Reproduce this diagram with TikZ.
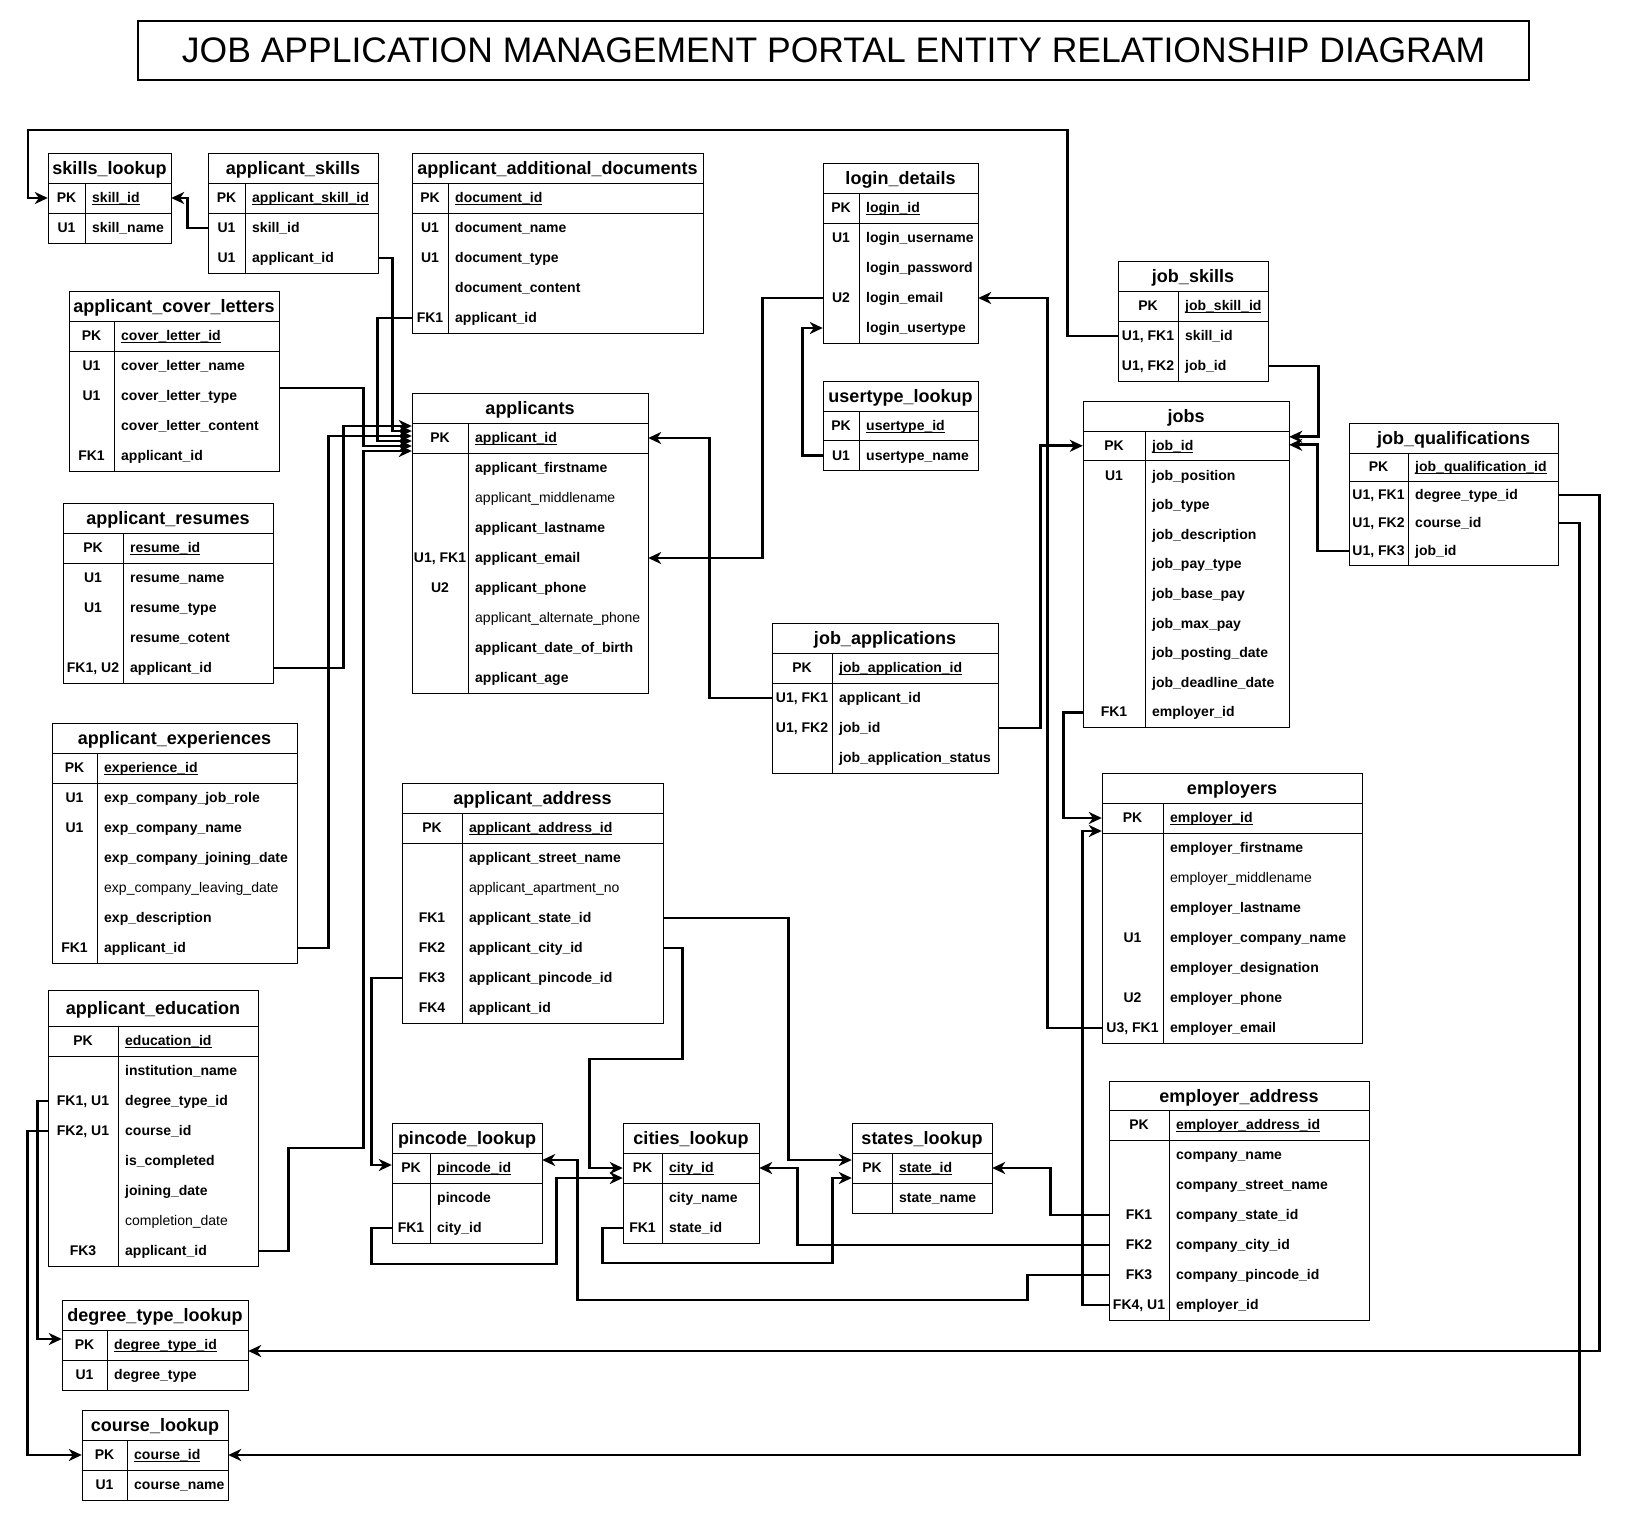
\documentclass[tikz,border=0pt]{standalone}
\usepackage{fontspec}
\setmainfont{Liberation Sans}
\usetikzlibrary{arrows.meta}

\newcommand{\pkfield}[1]{\underline{\smash{#1}}}
\newcommand{\ertable}[9]{%
  \node[tblhead, minimum width=#4, minimum height=#6] (#1) at (#2+#4/2, #3+#6/2) {#8};
  \foreach [count=\i] \k/\f in {#9} {
    \node[rowbox, minimum width=#4, minimum height=#7] (#1-\i) at (#2+#4/2, #3+#6+\i*#7-#7/2) {};
    \node[keytext] at (#2+#5/2, #3+#6+\i*#7-#7/2) {\k};
    \node[fieldtext] at (#2+#5+7, #3+#6+\i*#7-#7/2) {\f};
    \xdef\ernrows{\i}
  }
  \draw[tblline] (#2,#3) rectangle ++(#4, #6+\ernrows*#7);
  \draw[tblline] (#2,#3+#6) -- ++(#4,0) (#2,#3+#6+#7) -- ++(#4,0)
    (#2+#5,#3+#6) -- (#2+#5, #3+#6+\ernrows*#7);
}

\begin{document}
\begin{tikzpicture}[x=1pt, y=-1pt,
  tblhead/.style={inner sep=0, font=\bfseries\fontsize{18}{20}\selectfont, text height=16pt, text depth=3pt},
  rowbox/.style={inner sep=0},
  keytext/.style={inner sep=0, font=\bfseries\fontsize{14}{16}\selectfont, text height=12.5pt, text depth=3pt},
  fieldtext/.style={keytext, anchor=west},
  tblline/.style={line width=1pt},
  fk/.style={line width=2.8pt, -{Stealth[length=13pt, width=12pt, inset=4pt]}}]
  \fill[white] (0,0) rectangle (1628,1521);
  \useasboundingbox (0,0) rectangle (1628,1521);
  \node[draw, line width=1.2pt, minimum width=1391, minimum height=59, font=\fontsize{35.5}{40}\selectfont] (title) at (833.5,50.5)
    {JOB APPLICATION MANAGEMENT PORTAL ENTITY RELATIONSHIP DIAGRAM};

  \ertable{skills}{48}{153}{123}{37}{30}{30}{skills\_lookup}
    {PK/\pkfield{skill\_id}, U1/skill\_name}
  \ertable{appskills}{208}{153}{170}{37}{30}{30}{applicant\_skills}
    {PK/\pkfield{applicant\_skill\_id}, U1/skill\_id, U1/applicant\_id}
  \ertable{adddocs}{412}{153}{291}{36}{30}{30}{applicant\_additional\_documents}
    {PK/\pkfield{document\_id}, U1/document\_name, U1/document\_type, /document\_content, FK1/applicant\_id}
  \ertable{covers}{69}{291}{210}{45}{30}{30}{applicant\_cover\_letters}
    {PK/\pkfield{cover\_letter\_id}, U1/cover\_letter\_name, U1/cover\_letter\_type, /cover\_letter\_content, FK1/applicant\_id}
  \ertable{applicants}{412}{393}{236}{56}{30}{30}{applicants}
    {PK/\pkfield{applicant\_id}, /applicant\_firstname, /\mdseries applicant\_middlename, /applicant\_lastname,
     U1{,} FK1/applicant\_email, U2/applicant\_phone, /\mdseries applicant\_alternate\_phone,
     /applicant\_date\_of\_birth, /applicant\_age}
  \ertable{resumes}{63}{503}{210}{60}{30}{30}{applicant\_resumes}
    {PK/\pkfield{resume\_id}, U1/resume\_name, U1/resume\_type, /resume\_cotent, FK1{,} U2/applicant\_id}
  \ertable{exps}{52}{723}{245}{45}{30}{30}{applicant\_experiences}
    {PK/\pkfield{experience\_id}, U1/exp\_company\_job\_role, U1/exp\_company\_name, /exp\_company\_joining\_date,
     /\mdseries exp\_company\_leaving\_date, /exp\_description, FK1/applicant\_id}
  \ertable{edu}{48}{990}{210}{70}{36}{30}{applicant\_education}
    {PK/\pkfield{education\_id}, /institution\_name, FK1{,} U1/degree\_type\_id, FK2{,} U1/course\_id,
     /is\_completed, /joining\_date, /\mdseries completion\_date, FK3/applicant\_id}
  \ertable{degrees}{62}{1300}{186}{45}{30}{30}{degree\_type\_lookup}
    {PK/\pkfield{degree\_type\_id}, U1/degree\_type}
  \ertable{courses}{82}{1410}{146}{45}{30}{30}{course\_lookup}
    {PK/\pkfield{course\_id}, U1/course\_name}
  \ertable{login}{823}{163}{155}{36}{30}{30}{login\_details}
    {PK/\pkfield{login\_id}, U1/login\_username, /login\_password, U2/login\_email, /login\_usertype}
  \ertable{usertype}{823}{381}{155}{36}{30}{29.5}{usertype\_lookup}
    {PK/\pkfield{usertype\_id}, U1/usertype\_name}
  \ertable{jobskills}{1118}{261}{150}{60}{30}{30}{job\_skills}
    {PK/\pkfield{job\_skill\_id}, U1{,} FK1/skill\_id, U1{,} FK2/job\_id}
  \ertable{jobs}{1083}{401}{206}{62}{30}{29.6}{jobs}
    {PK/\pkfield{job\_id}, U1/job\_position, /job\_type, /job\_description, /job\_pay\_type, /job\_base\_pay,
     /job\_max\_pay, /job\_posting\_date, /job\_deadline\_date, FK1/employer\_id}
  \ertable{jobqual}{1349}{423}{209}{59}{30}{28}{job\_qualifications}
    {PK/\pkfield{job\_qualification\_id}, U1{,} FK1/degree\_type\_id, U1{,} FK2/course\_id, U1{,} FK3/job\_id}
  \ertable{jobapps}{772}{623}{226}{60}{30}{30}{job\_applications}
    {PK/\pkfield{job\_application\_id}, U1{,} FK1/applicant\_id, U1{,} FK2/job\_id, /job\_application\_status}
  \ertable{appaddr}{402}{783}{261}{60}{30}{30}{applicant\_address}
    {PK/\pkfield{applicant\_address\_id}, /applicant\_street\_name, /\mdseries applicant\_apartment\_no,
     FK1/applicant\_state\_id, FK2/applicant\_city\_id, FK3/applicant\_pincode\_id, FK4/applicant\_id}
  \ertable{employers}{1102}{773}{260}{61}{30}{30}{employers}
    {PK/\pkfield{employer\_id}, /employer\_firstname, /\mdseries employer\_middlename, /employer\_lastname,
     U1/employer\_company\_name, /employer\_designation, U2/employer\_phone, U3{,} FK1/employer\_email}
  \ertable{empaddr}{1109}{1081}{260}{60}{29}{30}{employer\_address}
    {PK/\pkfield{employer\_address\_id}, /company\_name, /company\_street\_name, FK1/company\_state\_id,
     FK2/company\_city\_id, FK3/company\_pincode\_id, FK4{,} U1/employer\_id}
  \ertable{pincodes}{392}{1123}{150}{38}{30}{30}{pincode\_lookup}
    {PK/\pkfield{pincode\_id}, /pincode, FK1/city\_id}
  \ertable{cities}{623}{1123}{136}{39}{30}{30}{cities\_lookup}
    {PK/\pkfield{city\_id}, /city\_name, FK1/state\_id}
  \ertable{states}{852}{1123}{140}{40}{30}{30}{states\_lookup}
    {PK/\pkfield{state\_id}, /state\_name}

  \coordinate (skilltop) at (28,130);
  \draw[fk] (jobskills-2.west) -- ++(-50,0) |- (skilltop) |- (skills-1.west);
  \draw[fk] (appskills-2.west) -- ++(-20,0) |- (skills-1.east);
  \draw[fk] (appskills-3.east) -- ++(14,0) |- ([yshift=7pt]applicants-1.west);
  \draw[fk] (adddocs-5.west) -- ++(-34,0) |- ([yshift=-3pt]applicants-1.west);
  \draw[fk] ([yshift=8pt]covers-3.east) -- ++(84,0) |- ([yshift=-8pt]applicants-1.west);
  \draw[fk] (resumes-5.east) -- ++(70,0) |- ([yshift=12pt]applicants-1.west);
  \draw[fk] (exps-7.east) -- ++(31,0) |- ([yshift=2pt]applicants-1.west);
  \draw[fk] (edu-8.east) -- ++(30,0) -- ++(0,-103) -- ++(75,0) |- ([yshift=-13pt]applicants-1.west);
  \draw[fk] (jobapps-2.west) -- ++(-62,0) |- (applicants-1.east);
  \draw[fk] (login-4.west) -- ++(-60,0) |- (applicants-5.east);
  \draw[fk] (usertype-2.west) -- ++(-20,0) |- (login-5.west);
  \draw[fk] (employers-8.west) -- ++(-54,0) |- (login-4.east);
  \draw[fk] (jobapps-3.east) -- ++(42,0) |- (jobs-1.west);
  \draw[fk] (jobskills-3.east) -- ++(50,0) |- ([yshift=9pt]jobs-1.east);
  \draw[fk] (jobqual-4.west) -- ++(-31,0) |- ([yshift=1pt]jobs-1.east);
  \draw[fk] (jobs-10.west) -- ++(-19,0) |- (employers-1.west);
  \draw[fk] (empaddr-7.west) -- ++(-26,0) |- ([yshift=-13pt]employers-1.west);
  \draw[fk] (jobqual-2.east) -- ++(41,0) |- ([yshift=-6pt]degrees-1.east);
  \draw[fk] (jobqual-3.east) -- ++(21,0) |- (courses-1.east);
  \draw[fk] (edu-3.west) -- ++(-10,0) |- ([yshift=6pt]degrees-1.west);
  \draw[fk] (edu-4.west) -- ++(-20,0) |- (courses-1.west);
  \draw[fk] (appaddr-6.west) -- ++(-30,0) |- ([yshift=3pt]pincodes-1.west);
  \draw[fk] (appaddr-5.east) -- ++(19,0) -- ++(0,111) -- ++(-93,0) |- (cities-1.west);
  \draw[fk] (appaddr-4.east) -- ++(125,0) |- ([yshift=8pt]states-1.west);
  \draw[fk] (pincodes-3.west) -- ++(-20,0) -- ++(0,36) -- ++(185,0) |- ([yshift=-10pt]cities-1.west);
  \draw[fk] (cities-3.west) -- ++(-20,0) -- ++(0,35) -- ++(230,0) |- ([yshift=-10pt]states-1.west);
  \draw[fk] (empaddr-4.west) -- ++(-58,0) |- (states-1.east);
  \draw[fk] (empaddr-5.west) -- ++(-311,0) |- (cities-1.east);
  \draw[fk] (empaddr-6.west) -- ++(-81,0) -- ++(0,25) -- ++(-450,0) |- ([yshift=8pt]pincodes-1.east);
\end{tikzpicture}
\end{document}
